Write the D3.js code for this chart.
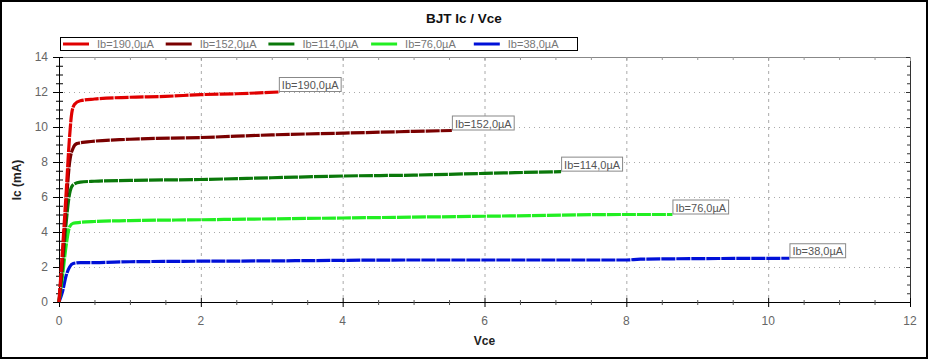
<!DOCTYPE html>
<html><head><meta charset="utf-8">
<script src="https://cdn.jsdelivr.net/npm/d3@7"></script>
<style>body{margin:0;background:#fff}svg{display:block;font-family:"Liberation Sans",Arial,sans-serif}</style>
</head><body><svg id="c" width="928" height="359"></svg>
<script>
const seriesNames = ["Ib=190,0µA","Ib=152,0µA","Ib=114,0µA","Ib=76,0µA","Ib=38,0µA"];
const seriesColors = ["#e00000","#7a0000","#0a780a","#22ee22","#0010d8"];
const vce190 = [0,0.05,0.1,0.15,0.18,0.22,0.3,0.5,1,1.5,2,2.5,3.1];
const ic190  = [0,3,6.2,9.5,10.8,11.3,11.5,11.6,11.7,11.75,11.85,11.9,12.0];
const vce152 = [0,0.05,0.1,0.15,0.2,0.25,0.4,1,2,3,4,5,5.54];
const ic152  = [0,2.5,5.5,8,8.8,9.05,9.15,9.3,9.4,9.55,9.65,9.75,9.8];
const vce114 = [0,0.05,0.1,0.15,0.2,0.3,0.5,1,2,3,4,5,6,7.08];
const ic114  = [0,2,4.5,6.2,6.7,6.85,6.9,6.95,7.0,7.1,7.2,7.25,7.35,7.45];
const vce76  = [0,0.05,0.1,0.15,0.2,0.3,0.5,1,2,4,6,8,8.65];
const ic76   = [0,1.5,3.2,4.3,4.5,4.55,4.6,4.65,4.7,4.8,4.9,5.0,5.0];
const vce38  = [0,0.05,0.1,0.15,0.2,0.3,0.5,1,3,5,8,8.2,10.3];
const ic38   = [0,0.6,1.5,2.0,2.2,2.25,2.25,2.3,2.35,2.4,2.4,2.45,2.5];
const xTicks = [0,2,4,6,8,10,12];
const yTicks = [0,2,4,6,8,10,12,14];
const title = "BJT Ic / Vce", xTitle = "Vce", yTitle = "Ic (mA)";

const vces = [vce190,vce152,vce114,vce76,vce38];
const ics = [ic190,ic152,ic114,ic76,ic38];
const series = seriesNames.map((n,i)=>({name:n,color:seriesColors[i],pts:vces[i].map((v,j)=>[v,ics[i][j]])}));

const svg = d3.select("#c");
const L=59,R=910,T=57,B=302;
const x = d3.scaleLinear().domain([0,12]).range([L,R]);
const y = d3.scaleLinear().domain([0,14]).range([B,T]);

svg.append("rect").attr("x",1).attr("y",1).attr("width",926).attr("height",357).attr("fill","#fff").attr("stroke","#000").attr("stroke-width",2);

svg.append("text").attr("x",464).attr("y",23).attr("text-anchor","middle").attr("font-weight","bold").attr("font-size",13.5).attr("fill","#111").text(title);

// grid
const g = svg.append("g");
yTicks.filter(t=>t>0&&t<14).forEach(t=>g.append("line").attr("x1",L).attr("x2",R).attr("y1",y(t)+0.5).attr("y2",y(t)+0.5).attr("stroke","#aaa").attr("stroke-dasharray","1,4"));
xTicks.filter(t=>t>0&&t<12).forEach(t=>g.append("line").attr("y1",T).attr("y2",B).attr("x1",x(t)+0.5).attr("x2",x(t)+0.5).attr("stroke","#aaa").attr("stroke-dasharray","3,4"));

// minor ticks
const minorX = d3.range(0,12.01,0.5), minorY = d3.range(0,14.01,0.5);
// top border and right border
svg.append("line").attr("x1",L).attr("x2",R).attr("y1",T+0.5).attr("y2",T+0.5).attr("stroke","#888");
svg.append("line").attr("x1",R+0.5).attr("x2",R+0.5).attr("y1",T).attr("y2",B).attr("stroke","#333");
minorX.forEach(t=>svg.append("line").attr("x1",x(t)+0.5).attr("x2",x(t)+0.5).attr("y1",T).attr("y2",T+(t%2===0?4:3)).attr("stroke","#999"));
minorY.forEach(t=>svg.append("line").attr("y1",y(t)+0.5).attr("y2",y(t)+0.5).attr("x1",R).attr("x2",R-(t%2===0?4:3)).attr("stroke","#333"));

// left axis
svg.append("line").attr("x1",L+0.5).attr("x2",L+0.5).attr("y1",T).attr("y2",B).attr("stroke","#000");
minorY.forEach(t=>{const maj=t%2===0;svg.append("line").attr("y1",y(t)+0.5).attr("y2",y(t)+0.5).attr("x1",maj?L-6:L-3).attr("x2",L+4).attr("stroke","#000");});
yTicks.forEach(t=>svg.append("text").attr("x",48).attr("y",y(t)+4).attr("text-anchor","end").attr("font-size",12).attr("fill","#666").text(t));
// bottom axis
svg.append("line").attr("x1",L).attr("x2",R).attr("y1",B+0.5).attr("y2",B+0.5).attr("stroke","#000");
minorX.forEach(t=>{const maj=t%2===0;svg.append("line").attr("x1",x(t)+0.5).attr("x2",x(t)+0.5).attr("y1",maj?B-4:B-2).attr("y2",maj?B+5:B+3).attr("stroke",maj?"#000":"#555");});
xTicks.forEach(t=>svg.append("text").attr("x",x(t)).attr("y",325).attr("text-anchor","middle").attr("font-size",12).attr("fill","#666").text(t));

svg.append("text").attr("x",(L+R)/2).attr("y",345).attr("text-anchor","middle").attr("font-weight","bold").attr("font-size",12).attr("fill","#222").text(xTitle);
svg.append("text").attr("transform","translate(21,180) rotate(-90)").attr("text-anchor","middle").attr("font-weight","bold").attr("font-size",12).attr("fill","#222").text(yTitle);

// lines
const line = d3.line().x(d=>x(d[0])).y(d=>y(d[1])).curve(d3.curveMonotoneX);
series.slice().reverse().forEach(s=>{
  svg.append("path").attr("d",line(s.pts)).attr("fill","none").attr("stroke",s.color).attr("stroke-width",3.2).attr("stroke-dasharray","14,1");
});
// end labels
series.forEach(s=>{
  const p=s.pts[s.pts.length-1];
  const lx=x(p[0]), ly=y(p[1]);
  const t=svg.append("text").attr("x",lx+3).attr("y",ly-3).attr("font-size",11).attr("fill","#555").text(s.name);
  const w=t.node().getComputedTextLength();
  svg.insert("rect",()=>t.node()).attr("x",lx+0.5).attr("y",ly-14.5).attr("width",w+5).attr("height",14).attr("fill","#fff").attr("stroke","#888");
});

// legend
svg.append("rect").attr("x",60.5).attr("y",37.5).attr("width",517).attr("height",13).attr("fill","#fff").attr("stroke","#000");
series.forEach((s,i)=>{
  const lx=63+i*102.7;
  svg.append("line").attr("x1",lx).attr("x2",lx+26).attr("y1",44).attr("y2",44).attr("stroke",s.color).attr("stroke-width",3);
  svg.append("text").attr("x",lx+34).attr("y",48).attr("font-size",11).attr("fill","#777").text(s.name);
});
</script></body></html>
